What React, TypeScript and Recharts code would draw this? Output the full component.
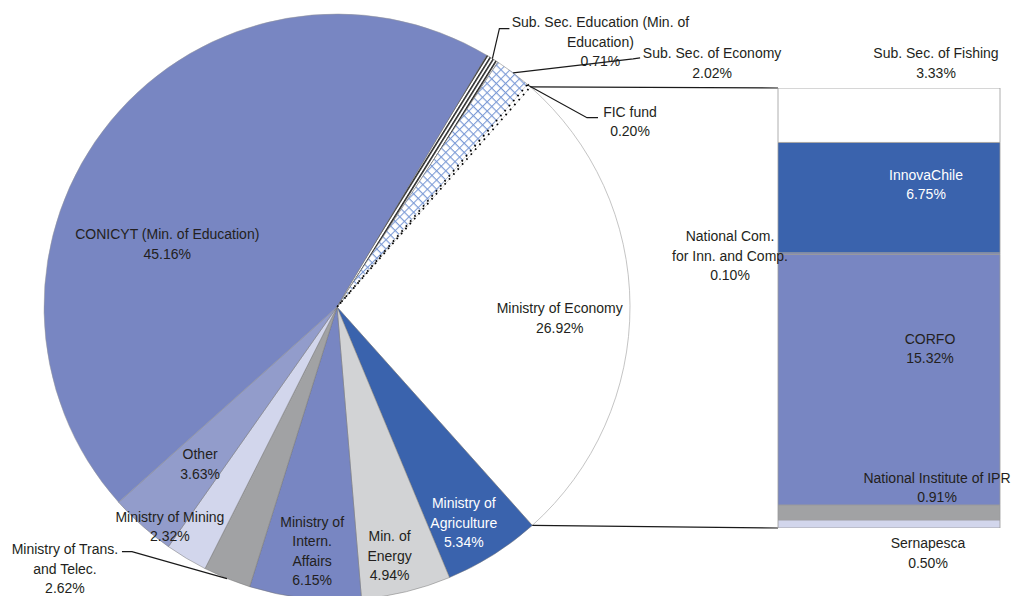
import React from 'react';
import { PieChart, Pie, Cell, BarChart, Bar, XAxis, YAxis } from 'recharts';

// ---------- data ----------
const PIE_NAMES = [
  'Ministry of Economy',
  'Ministry of Agriculture',
  'Min. of Energy',
  'Ministry of Intern. Affairs',
  'Ministry of Trans. and Telec.',
  'Ministry of Mining',
  'Other',
  'CONICYT (Min. of Education)',
  'Sub. Sec. Education (Min. of Education)',
  'Sub. Sec. of Economy',
  'FIC fund',
];
const PIE_VALUES = [26.92, 5.34, 4.94, 6.15, 2.62, 2.32, 3.63, 45.16, 0.71, 2.02, 0.2];
const PIE_LABEL_LINES = [
  ['Ministry of Economy'],
  ['Ministry of', 'Agriculture'],
  ['Min. of', 'Energy'],
  ['Ministry of', 'Intern.', 'Affairs'],
  ['Ministry of Trans.', 'and Telec.'],
  ['Ministry of Mining'],
  ['Other'],
  ['CONICYT (Min. of Education)'],
  ['Sub. Sec. Education (Min. of', 'Education)'],
  ['Sub. Sec. of Economy'],
  ['FIC fund'],
];

const BAR_NAMES = [
  'Sernapesca',
  'National Institute of IPR',
  'CORFO',
  'National Com. for Inn. and Comp.',
  'InnovaChile',
  'Sub. Sec. of Fishing',
];
const BAR_VALUES = [0.5, 0.91, 15.32, 0.1, 6.75, 3.33];
const BAR_LABEL_LINES = [
  ['Sernapesca'],
  ['National Institute of IPR'],
  ['CORFO'],
  ['National Com.', 'for Inn. and Comp.'],
  ['InnovaChile'],
  ['Sub. Sec. of Fishing'],
];
const BAR_CATEGORY = 'Ministry of Economy';

// ---------- styles / layout ----------
const FONT = "'Liberation Sans', Arial, Helvetica, sans-serif";
const TEXT = '#231f20';
const LINE_H = 19.5;

const C_MID = '#7886c2';
const C_DARK = '#3a63ad';
const C_OTHER = '#929ccb';
const C_LIGHT = '#d2d6ec';
const C_GRAY = '#a1a2a4';
const C_LGRAY = '#d2d3d5';

const PIE_STYLE = [
  { fill: '#ffffff', stroke: '#b5b5b5', sw: 0.8 },
  { fill: C_DARK, stroke: '#777', sw: 0.5 },
  { fill: C_LGRAY, stroke: '#777', sw: 0.5 },
  { fill: C_MID, stroke: '#777', sw: 0.5 },
  { fill: C_GRAY, stroke: '#777', sw: 0.5 },
  { fill: C_LIGHT, stroke: '#777', sw: 0.5 },
  { fill: C_OTHER, stroke: '#777', sw: 0.5 },
  { fill: C_MID, stroke: '#999', sw: 0.5 },
  { fill: 'url(#stripes)', stroke: '#555', sw: 0.5 },
  { fill: 'url(#grid)', stroke: '#777', sw: 0.5 },
  { fill: '#ffffff', stroke: '#000', sw: 1.8, dash: '1.6 5' },
];

// label position: radius factor along mid angle + offset; optional leader (offsets from arc point)
const PIE_LABEL_LAYOUT: any[] = [
  { rf: 0.76, dx: 0, dy: 12 },
  { rf: 0.87, dx: -9, dy: 0, color: '#ffffff' },
  { rf: 0.874, dx: -8, dy: 0 },
  { rf: 0.838, dx: 2, dy: 0 },
  { rf: 1, dx: -162, dy: -10, leader: [[-95, -27], [-105, -27]] },
  { rf: 0.85, dx: -39, dy: 6 },
  { rf: 0.703, dx: 0, dy: 3 },
  { rf: 0.6, dx: -34, dy: 49 },
  { rf: 1, dx: 108, dy: -17, leader: [[7, -30], [17, -30]] },
  { rf: 1, dx: 199, dy: -10, leader: [[120, -14], [127, -15]] },
  { rf: 1, dx: 101, dy: 36, leader: [[58, 32], [69, 32]] },
];

const BAR_STYLE = [
  { fill: C_LIGHT },
  { fill: C_GRAY },
  { fill: C_MID },
  { fill: C_MID },
  { fill: C_DARK },
  { fill: '#ffffff' },
];
const BAR_LABEL_LAYOUT: any[] = [
  { dx: 39, dy: 29 },
  { dx: 48, dy: -25 },
  { dx: 41, dy: -31 },
  { dx: -159, dy: 2 },
  { dx: 37, dy: -13, color: '#ffffff' },
  { dx: 47, dy: -52 },
];

const W = 1013;
const H = 596;
const PIE_CX = 337;
const PIE_CY = 307;
const PIE_R = 293;
const PIE_START = 48.7;

const BAR_BOX = { left: 640, top: 30, width: 373, height: 566 };
const BAR_MARGIN = { top: 58, right: 13, bottom: 68, left: 138 };
const BAR_X = BAR_BOX.left + BAR_MARGIN.left;
const BAR_TOP = BAR_BOX.top + BAR_MARGIN.top;
const BAR_BOTTOM = BAR_BOX.top + BAR_BOX.height - BAR_MARGIN.bottom;

const fmt = (v: number) => v.toFixed(2) + '%';
const RAD = Math.PI / 180;

const pieData = PIE_NAMES.map((name, i) => ({ name, value: PIE_VALUES[i] }));
const barRow: any = { name: BAR_CATEGORY };
BAR_NAMES.forEach((n, i) => {
  barRow['s' + i] = BAR_VALUES[i];
});
const barData = [barRow];
const BAR_TOTAL = BAR_VALUES.reduce((a, b) => a + b, 0);

function TextBlock({ x, y, lines, color }: any) {
  const n = lines.length;
  return (
    <text x={x} y={y} textAnchor="middle" fontFamily={FONT} fontSize={14} fill={color || TEXT}>
      {lines.map((l: string, i: number) => (
        <tspan key={i} x={x} y={y + (i - (n - 1) / 2) * LINE_H + 5}>
          {l}
        </tspan>
      ))}
    </text>
  );
}

const renderPieLabel = (p: any) => {
  const i = p.index;
  const L = PIE_LABEL_LAYOUT[i];
  const pt = (r: number, a: number) => [p.cx + r * Math.cos(-a * RAD), p.cy + r * Math.sin(-a * RAD)];
  const [ax, ay] = pt(p.outerRadius * L.rf, p.midAngle);
  const lines = [...PIE_LABEL_LINES[i], fmt(PIE_VALUES[i])];
  const parts: any[] = [];
  if (i === 0) {
    const [sx, sy] = pt(p.outerRadius, p.startAngle);
    const [ex, ey] = pt(p.outerRadius, p.endAngle);
    parts.push(<line key="c1" x1={sx} y1={sy} x2={BAR_X} y2={BAR_TOP} stroke="#1a1a1a" strokeWidth={1.2} />);
    parts.push(<line key="c2" x1={ex} y1={ey} x2={BAR_X} y2={BAR_BOTTOM} stroke="#1a1a1a" strokeWidth={1.2} />);
  }
  if (L.leader) {
    const pts = [[ax, ay], ...L.leader.map((o: number[]) => [ax + o[0], ay + o[1]])];
    parts.push(
      <polyline
        key="ld"
        points={pts.map((q) => q.join(',')).join(' ')}
        fill="none"
        stroke="#1a1a1a"
        strokeWidth={1.2}
      />
    );
  }
  parts.push(<TextBlock key="t" x={ax + L.dx} y={ay + L.dy} lines={lines} color={L.color} />);
  return <g>{parts}</g>;
};

const makeBarLabel = (i: number) => (p: any) => {
  const L = BAR_LABEL_LAYOUT[i];
  const cx = p.x + p.width / 2;
  const cy = p.y + p.height / 2;
  const lines = [...BAR_LABEL_LINES[i], fmt(BAR_VALUES[i])];
  return <TextBlock x={cx + L.dx} y={cy + L.dy} lines={lines} color={L.color} />;
};

export default function App() {
  return (
    <div style={{ position: 'absolute', left: 0, top: 0, width: W, height: H, background: '#fff' }}>
      <svg width={0} height={0} style={{ position: 'absolute' }}>
        <defs>
          <pattern id="stripes" width={3.4} height={3.4} patternUnits="userSpaceOnUse" patternTransform="rotate(32)">
            <rect width={3.4} height={3.4} fill="#fff" />
            <line x1={0.8} y1={0} x2={0.8} y2={3.4} stroke="#111" strokeWidth={1.4} />
          </pattern>
          <pattern id="grid" width={6.5} height={6.5} patternUnits="userSpaceOnUse" patternTransform="rotate(45)">
            <rect width={6.5} height={6.5} fill="#fff" />
            <path d="M0 0.5 H6.5 M0.5 0 V6.5" stroke="#7b9ad6" strokeWidth={1.1} fill="none" />
          </pattern>
        </defs>
      </svg>
      <div style={{ position: 'absolute', left: 0, top: 0 }}>
        <PieChart width={W} height={H} margin={{ top: 0, right: 0, bottom: 0, left: 0 }}>
          <Pie
            data={pieData}
            dataKey="value"
            nameKey="name"
            cx={PIE_CX}
            cy={PIE_CY}
            outerRadius={PIE_R}
            innerRadius={0}
            startAngle={PIE_START}
            endAngle={PIE_START - 360}
            isAnimationActive={false}
            labelLine={false}
            label={renderPieLabel}
          >
            {pieData.map((d, i) => (
              <Cell
                key={d.name}
                fill={PIE_STYLE[i].fill}
                stroke={PIE_STYLE[i].stroke}
                strokeWidth={PIE_STYLE[i].sw}
                strokeDasharray={PIE_STYLE[i].dash}
              />
            ))}
          </Pie>
        </PieChart>
      </div>
      <div style={{ position: 'absolute', left: BAR_BOX.left, top: BAR_BOX.top }}>
        <BarChart
          width={BAR_BOX.width}
          height={BAR_BOX.height}
          data={barData}
          margin={BAR_MARGIN}
          barCategoryGap={0}
          barGap={0}
        >
          <XAxis dataKey="name" hide />
          <YAxis hide domain={[0, BAR_TOTAL]} type="number" allowDataOverflow />
          {BAR_NAMES.map((n, i) => (
            <Bar
              key={n}
              name={n}
              dataKey={'s' + i}
              stackId="a"
              fill={BAR_STYLE[i].fill}
              stroke="#9a9a9a"
              strokeWidth={0.8}
              isAnimationActive={false}
              label={makeBarLabel(i)}
            />
          ))}
        </BarChart>
      </div>
    </div>
  );
}
